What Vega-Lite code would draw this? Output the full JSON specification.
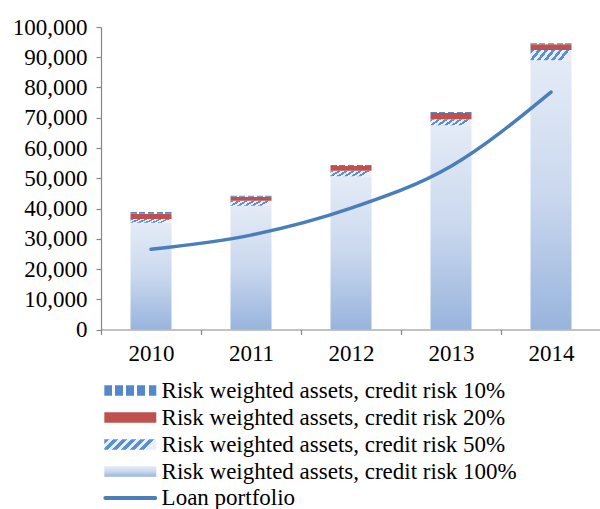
{
  "$schema": "https://vega.github.io/schema/vega-lite/v6.json",
  "width": 500,
  "height": 302.5,
  "autosize": {"type": "none"},
  "padding": {"left": 101, "top": 27, "right": 0, "bottom": 179.5},
  "background": "white",
  "datasets": {
    "rwa": [
      {"year": "2010", "series": "Risk weighted assets, credit risk 100%", "value": 35300},
      {"year": "2010", "series": "Risk weighted assets, credit risk 50%", "value": 1220},
      {"year": "2010", "series": "Risk weighted assets, credit risk 20%", "value": 1750},
      {"year": "2010", "series": "Risk weighted assets, credit risk 10%", "value": 560},
      {"year": "2011", "series": "Risk weighted assets, credit risk 100%", "value": 40900},
      {"year": "2011", "series": "Risk weighted assets, credit risk 50%", "value": 1650},
      {"year": "2011", "series": "Risk weighted assets, credit risk 20%", "value": 1320},
      {"year": "2011", "series": "Risk weighted assets, credit risk 10%", "value": 330},
      {"year": "2012", "series": "Risk weighted assets, credit risk 100%", "value": 50700},
      {"year": "2012", "series": "Risk weighted assets, credit risk 50%", "value": 1760},
      {"year": "2012", "series": "Risk weighted assets, credit risk 20%", "value": 1550},
      {"year": "2012", "series": "Risk weighted assets, credit risk 10%", "value": 330},
      {"year": "2013", "series": "Risk weighted assets, credit risk 100%", "value": 67500},
      {"year": "2013", "series": "Risk weighted assets, credit risk 50%", "value": 2000},
      {"year": "2013", "series": "Risk weighted assets, credit risk 20%", "value": 2080},
      {"year": "2013", "series": "Risk weighted assets, credit risk 10%", "value": 330},
      {"year": "2014", "series": "Risk weighted assets, credit risk 100%", "value": 89000},
      {"year": "2014", "series": "Risk weighted assets, credit risk 50%", "value": 3400},
      {"year": "2014", "series": "Risk weighted assets, credit risk 20%", "value": 1880},
      {"year": "2014", "series": "Risk weighted assets, credit risk 10%", "value": 330}
    ],
    "loan": [
      {"year": "2010", "series": "Loan portfolio", "value": 26500},
      {"year": "2011", "series": "Loan portfolio", "value": 31200},
      {"year": "2012", "series": "Loan portfolio", "value": 40100},
      {"year": "2013", "series": "Loan portfolio", "value": 54000},
      {"year": "2014", "series": "Loan portfolio", "value": 78500}
    ]
  },
  "config": {
    "view": {"stroke": null},
    "font": "Liberation Serif",
    "axis": {
      "domainColor": "#868686",
      "tickColor": "#868686",
      "tickSize": 5,
      "labelFont": "Liberation Serif",
      "labelFontSize": 23,
      "labelColor": "#000000",
      "labelOverlap": false,
      "grid": false,
      "title": null,
      "domainWidth": 1.2,
      "tickWidth": 1.2
    },
    "legend": {
      "orient": "none",
      "title": null,
      "labelFont": "Liberation Serif",
      "labelFontSize": 23,
      "labelColor": "#000000",
      "labelLimit": 500,
      "padding": 0,
      "rowPadding": 3,
      "symbolOpacity": 1
    }
  },
  "layer": [
    {
      "data": {"name": "rwa"},
      "transform": [
        {"calculate": "indexof(['Risk weighted assets, credit risk 100%','Risk weighted assets, credit risk 50%','Risk weighted assets, credit risk 20%','Risk weighted assets, credit risk 10%'], datum.series)", "as": "stackOrder"}
      ],
      "mark": {"type": "bar", "strokeWidth": 0},
      "encoding": {
        "x": {
          "field": "year",
          "type": "ordinal",
          "scale": {"paddingInner": 0.59, "paddingOuter": 0.295},
          "axis": {"labelAngle": 0, "tickOffset": -50, "labelOffset": 50, "labelPadding": 8}
        },
        "y": {
          "field": "value",
          "type": "quantitative",
          "stack": "zero",
          "scale": {"domain": [0, 100000], "nice": false},
          "axis": {"values": [0, 10000, 20000, 30000, 40000, 50000, 60000, 70000, 80000, 90000, 100000], "format": ",d", "labelPadding": 9}
        },
        "fill": {
          "field": "series",
          "type": "nominal",
          "scale": {
            "domain": [
              "Risk weighted assets, credit risk 10%",
              "Risk weighted assets, credit risk 20%",
              "Risk weighted assets, credit risk 50%",
              "Risk weighted assets, credit risk 100%"
            ],
            "range": [
              {"expr": "{gradient:'linear',x1:0,y1:0,x2:1,y2:0,stops:[{offset:0,color:'#5588C8'},{offset:0.148,color:'#5588C8'},{offset:0.148,color:'#FFFFFF'},{offset:0.2125,color:'#FFFFFF'},{offset:0.2125,color:'#5588C8'},{offset:0.3605,color:'#5588C8'},{offset:0.3605,color:'#FFFFFF'},{offset:0.425,color:'#FFFFFF'},{offset:0.425,color:'#5588C8'},{offset:0.573,color:'#5588C8'},{offset:0.573,color:'#FFFFFF'},{offset:0.6375,color:'#FFFFFF'},{offset:0.6375,color:'#5588C8'},{offset:0.7855,color:'#5588C8'},{offset:0.7855,color:'#FFFFFF'},{offset:0.852,color:'#FFFFFF'},{offset:0.852,color:'#5588C8'},{offset:1,color:'#5588C8'}]}"},
              "#C0504D",
              {"expr": "{gradient:'linear',x1:0,y1:0,x2:1,y2:0.2,stops:[{offset:0,color:'#5A8FD2'},{offset:0.0833,color:'#5A8FD2'},{offset:0.0833,color:'#E8EFF8'},{offset:0.1667,color:'#E8EFF8'},{offset:0.1667,color:'#5A8FD2'},{offset:0.25,color:'#5A8FD2'},{offset:0.25,color:'#E8EFF8'},{offset:0.3333,color:'#E8EFF8'},{offset:0.3333,color:'#5A8FD2'},{offset:0.4167,color:'#5A8FD2'},{offset:0.4167,color:'#E8EFF8'},{offset:0.5,color:'#E8EFF8'},{offset:0.5,color:'#5A8FD2'},{offset:0.5833,color:'#5A8FD2'},{offset:0.5833,color:'#E8EFF8'},{offset:0.6667,color:'#E8EFF8'},{offset:0.6667,color:'#5A8FD2'},{offset:0.75,color:'#5A8FD2'},{offset:0.75,color:'#E8EFF8'},{offset:0.8333,color:'#E8EFF8'},{offset:0.8333,color:'#5A8FD2'},{offset:0.9167,color:'#5A8FD2'},{offset:0.9167,color:'#E8EFF8'},{offset:1,color:'#E8EFF8'}]}"},
              {"expr": "{gradient:'linear',x1:0,y1:0,x2:0,y2:1,stops:[{offset:0,color:'#E4EBF6'},{offset:0.5,color:'#CAD8EE'},{offset:1,color:'#98B4DD'}]}"}
            ]
          },
          "legend": {
            "legendX": 17.8,
            "legendY": 352,
            "symbolType": "M-5,-1H5V1H-5Z",
            "symbolSize": 108,
            "symbolStrokeWidth": 0,
            "labelOffset": 19.8
          }
        },
        "order": {"field": "stackOrder", "type": "quantitative"}
      }
    },
    {
      "data": {"name": "loan"},
      "mark": {"type": "line", "interpolate": "monotone", "strokeWidth": 3.5, "strokeCap": "round"},
      "encoding": {
        "x": {
          "field": "year",
          "type": "ordinal",
          "axis": {"labelAngle": 0, "tickOffset": -50, "labelOffset": 50, "labelPadding": 8}
        },
        "y": {
          "field": "value",
          "type": "quantitative",
          "axis": {"values": [0, 10000, 20000, 30000, 40000, 50000, 60000, 70000, 80000, 90000, 100000], "format": ",d", "labelPadding": 9}
        },
        "stroke": {
          "field": "series",
          "type": "nominal",
          "scale": {"range": ["#4A7EBB"]},
          "legend": {
            "legendX": 17.8,
            "legendY": 459.5,
            "symbolType": "M-4.8,0H4.8",
            "symbolSize": 108,
            "symbolStrokeWidth": 4,
            "labelOffset": 19.8,
            "encode": {"symbols": {"update": {"strokeCap": {"value": "round"}}}}
          }
        }
      }
    }
  ]
}
